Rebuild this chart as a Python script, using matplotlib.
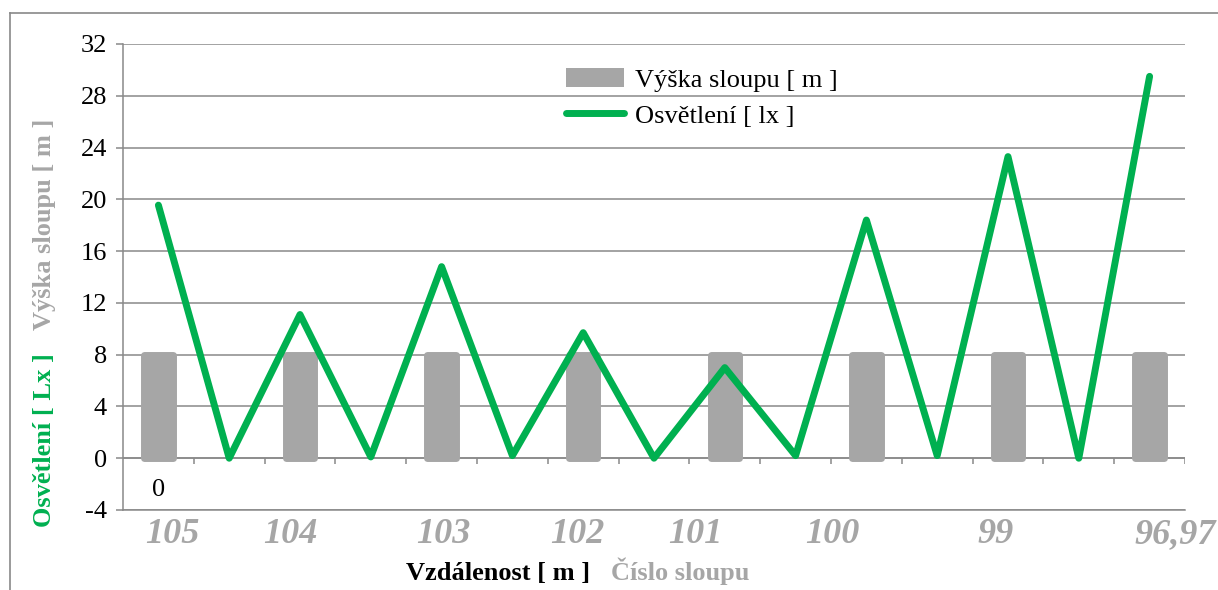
import matplotlib
matplotlib.use("Agg")
import matplotlib.pyplot as plt
import numpy as np
from matplotlib.patches import Patch
from matplotlib.lines import Line2D

# ---- data ----
light_values = [19.55, 0.0, 11.1, 0.1, 14.8, 0.2, 9.7, 0.0, 7.0, 0.2, 18.4, 0.2, 23.3, 0.0, 29.5]
pole_heights = [8, 8, 8, 8, 8, 8, 8, 8]
pole_labels = ["105", "104", "103", "102", "101", "100", "99", "96,97"]
pole_label_pos = [0.19, 1.86, 4.03, 5.92, 7.58, 9.52, 11.82, 14.36]
y_ticks = list(range(-4, 33, 4))

GREEN = "#00B050"
BARGRAY = "#A6A6A6"
LBLGRAY = "#A6A6A6"
GRID = "#898989"

plt.rcParams['font.family'] = ['Liberation Serif', 'DejaVu Serif']
plt.rcParams['axes.unicode_minus'] = False

W, H = 1218, 590
fig = plt.figure(figsize=(W / 100, H / 100), dpi=100)
ax = fig.add_axes([123 / W, 1 - 510 / H, (1185 - 123) / W, (510 - 44) / H])

x_line = np.arange(len(light_values))
x_bars = np.arange(0, len(light_values), 2)

ax.set_xlim(-0.5, len(light_values) - 0.5)
ax.set_ylim(-4, 32)
ax.set_axisbelow(True)
ax.yaxis.grid(True, color=GRID, lw=1.1)
ax.set_yticks(y_ticks)
ax.tick_params(axis='y', length=5, width=1.1, color=GRID, pad=6.5, labelsize=19)

# bars
ax.bar(x_bars, pole_heights, width=0.4, color=BARGRAY, edgecolor=BARGRAY,
       linewidth=5, joinstyle='round', zorder=2)
# line
ax.plot(x_line, light_values, color=GREEN, lw=5, solid_capstyle='round',
        solid_joinstyle='round', zorder=3)

# zero axis with ticks between categories
ax.axhline(0, color=GRID, lw=1.1, zorder=1)
ax.vlines(np.arange(0.5, len(light_values), 1), -0.46, 0, color=GRID, lw=1.1, zorder=1)

# spines
for s in ['top', 'right']:
    ax.spines[s].set_visible(False)
for s in ['left', 'bottom']:
    ax.spines[s].set_color(GRID)
    ax.spines[s].set_linewidth(1.1)

ax.set_xticks(pole_label_pos)
ax.set_xticklabels(pole_labels, fontsize=26, fontweight='bold', fontstyle='italic', color=LBLGRAY)
ax.tick_params(axis='x', length=0, pad=6)

ax.text(0, -2.47, "0", ha='center', va='center', fontsize=19, color='black')

# axis titles
fig.text(45 / W, 1 - 440 / H, "Osvětlení [ Lx ]", rotation=90, ha='center', va='center',
         fontsize=19, fontweight='bold', color=GREEN)
fig.text(45 / W, 1 - 224 / H, "Výška sloupu [ m ]", rotation=90, ha='center', va='center',
         fontsize=19, fontweight='bold', color=LBLGRAY)
fig.text(498 / W, 1 - 580 / H, "Vzdálenost [ m ]", ha='center', va='baseline',
         fontsize=19, fontweight='bold', color='black')
fig.text(680 / W, 1 - 580 / H, "Číslo sloupu", ha='center', va='baseline',
         fontsize=19, fontweight='bold', color=LBLGRAY)

# legend
handles = [Patch(facecolor=BARGRAY, edgecolor=BARGRAY, linewidth=0),
           Line2D([0], [0], color=GREEN, lw=5, solid_capstyle='round')]
fig.legend(handles, ["Výška sloupu [ m ]", "Osvětlení [ lx ]"], loc='upper left',
           bbox_to_anchor=(566 / W, 1 - 68 / H), frameon=False, fontsize=19,
           handlelength=2.2, handleheight=0.75, handletextpad=0.42, borderpad=0,
           borderaxespad=0, labelspacing=0.45)

# outer border
fig.add_artist(Line2D([10 / W, 1], [1 - 13 / H, 1 - 13 / H], color=GRID, lw=1.2,
                      transform=fig.transFigure))
fig.add_artist(Line2D([10 / W, 10 / W], [1 - 13 / H, 0], color=GRID, lw=1.2,
                      transform=fig.transFigure))

fig.savefig("out.png", dpi=100)
